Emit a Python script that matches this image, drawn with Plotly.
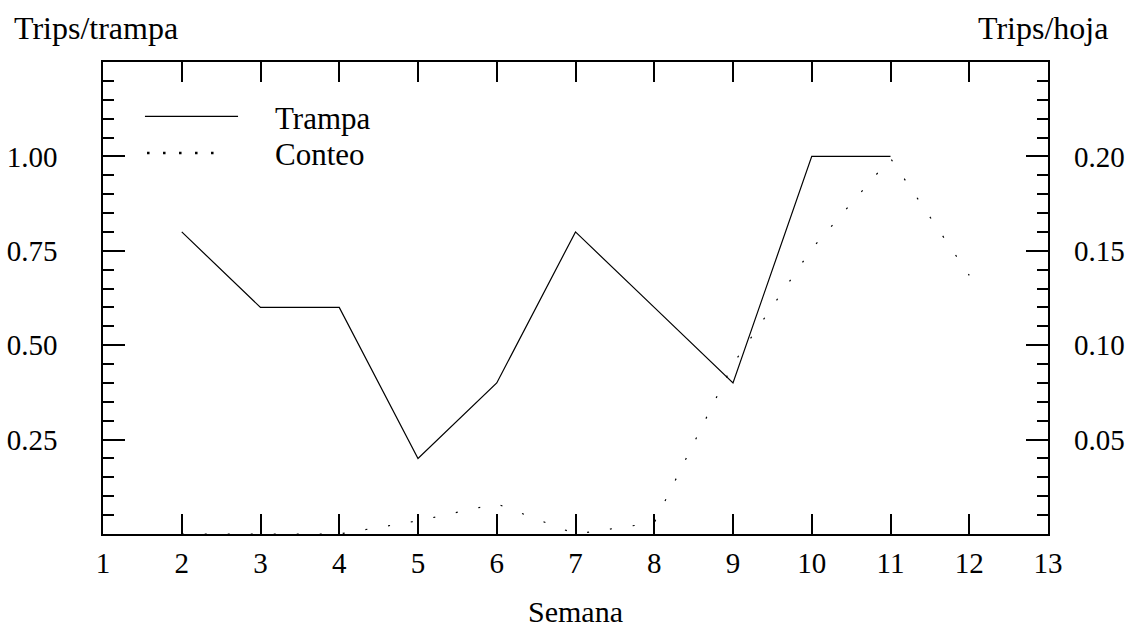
import plotly.graph_objects as go

semana = [2, 3, 4, 5, 6, 7, 8, 9, 10, 11, 12]
trampa_x = [2, 3, 4, 5, 6, 7, 8, 9, 10, 11]
trampa = [0.80, 0.60, 0.60, 0.20, 0.40, 0.80, 0.60, 0.40, 1.00, 1.00]
conteo = [0.0, 0.0, 0.0, 0.007, 0.016, 0.0, 0.006, 0.090, 0.151, 0.199, 0.137]

x_ticks = list(range(1, 14))
y_left_ticks = [0.25, 0.50, 0.75, 1.00]
y_left_text = ["0.25", "0.50", "0.75", "1.00"]
y_right_ticks = [0.05, 0.10, 0.15, 0.20]
y_right_text = ["0.05", "0.10", "0.15", "0.20"]

FONT = "Liberation Serif, Times New Roman, DejaVu Serif, serif"
FS = 31
TFS = 29
BLACK = "#000000"

fig = go.Figure()
fig.add_trace(go.Scatter(x=trampa_x, y=trampa, mode="lines", name="Trampa",
                         line=dict(color=BLACK, width=1.2), yaxis="y"))
fig.add_trace(go.Scatter(x=semana, y=conteo, mode="lines", name="Conteo",
                         line=dict(color=BLACK, width=1.2, dash="2px,21px"), yaxis="y2"))

fig.update_layout(
    width=1141, height=630,
    margin=dict(l=103, r=93, t=62, b=96, autoexpand=False),
    paper_bgcolor="white", plot_bgcolor="white",
    showlegend=False,
    font=dict(family=FONT, size=FS, color=BLACK),
    xaxis=dict(range=[1, 13], tickmode="array", tickvals=x_ticks,
               ticktext=[str(v) for v in x_ticks],
               ticks="inside", ticklen=20, tickwidth=1.5, tickcolor=BLACK,
               showline=True, linecolor=BLACK, linewidth=1.5, mirror="ticks",
               showgrid=False, zeroline=False, ticklabelstandoff=2, automargin=False,
               tickfont=dict(family=FONT, size=TFS, color=BLACK)),
    yaxis=dict(range=[0, 1.25], tickmode="array", tickvals=y_left_ticks,
               ticktext=y_left_text,
               ticks="inside", ticklen=22, tickwidth=1.5, tickcolor=BLACK,
               minor=dict(tickmode="linear", tick0=0, dtick=0.05, ticks="inside",
                          ticklen=11, tickwidth=1.5, tickcolor=BLACK, showgrid=False),
               showline=True, linecolor=BLACK, linewidth=1.5, mirror="ticks",
               showgrid=False, zeroline=False, ticklabelstandoff=38, automargin=False,
               tickfont=dict(family=FONT, size=TFS, color=BLACK)),
    yaxis2=dict(range=[0, 0.25], overlaying="y", side="right",
                tickmode="array", tickvals=y_right_ticks, ticktext=y_right_text,
                ticks="", showline=False, showgrid=False, zeroline=False,
                ticklabelstandoff=25, automargin=False,
                tickfont=dict(family=FONT, size=TFS, color=BLACK)),
)

# Legend drawn manually
fig.add_shape(type="line", xref="paper", yref="paper", x0=0.0444, x1=0.1429,
              y0=0.885, y1=0.885, line=dict(color=BLACK, width=1.2))
fig.add_shape(type="line", xref="paper", yref="paper", x0=0.0466, x1=0.1175,
              y0=0.807, y1=0.807, line=dict(color=BLACK, width=2.5, dash="2.5px,13.5px"))
fig.add_annotation(text="Trampa", xref="paper", yref="paper", x=0.18, y=0.881,
                   xanchor="left", yanchor="middle", showarrow=False,
                   font=dict(family=FONT, size=FS, color=BLACK))
fig.add_annotation(text="Conteo", xref="paper", yref="paper", x=0.18, y=0.803,
                   xanchor="left", yanchor="middle", showarrow=False,
                   font=dict(family=FONT, size=FS, color=BLACK))

# Axis titles
fig.add_annotation(text="Trips/trampa", xref="paper", yref="paper", x=-0.0963, y=1.071,
                   xanchor="left", yanchor="middle", showarrow=False,
                   font=dict(family=FONT, size=32, color=BLACK))
fig.add_annotation(text="Trips/hoja", xref="paper", yref="paper", x=1.0656, y=1.071,
                   xanchor="right", yanchor="middle", showarrow=False,
                   font=dict(family=FONT, size=32, color=BLACK))
fig.add_annotation(text="Semana", xref="paper", yref="paper", x=0.5, y=-0.164,
                   xanchor="center", yanchor="middle", showarrow=False,
                   font=dict(family=FONT, size=30, color=BLACK))

fig.write_html("out.html")
